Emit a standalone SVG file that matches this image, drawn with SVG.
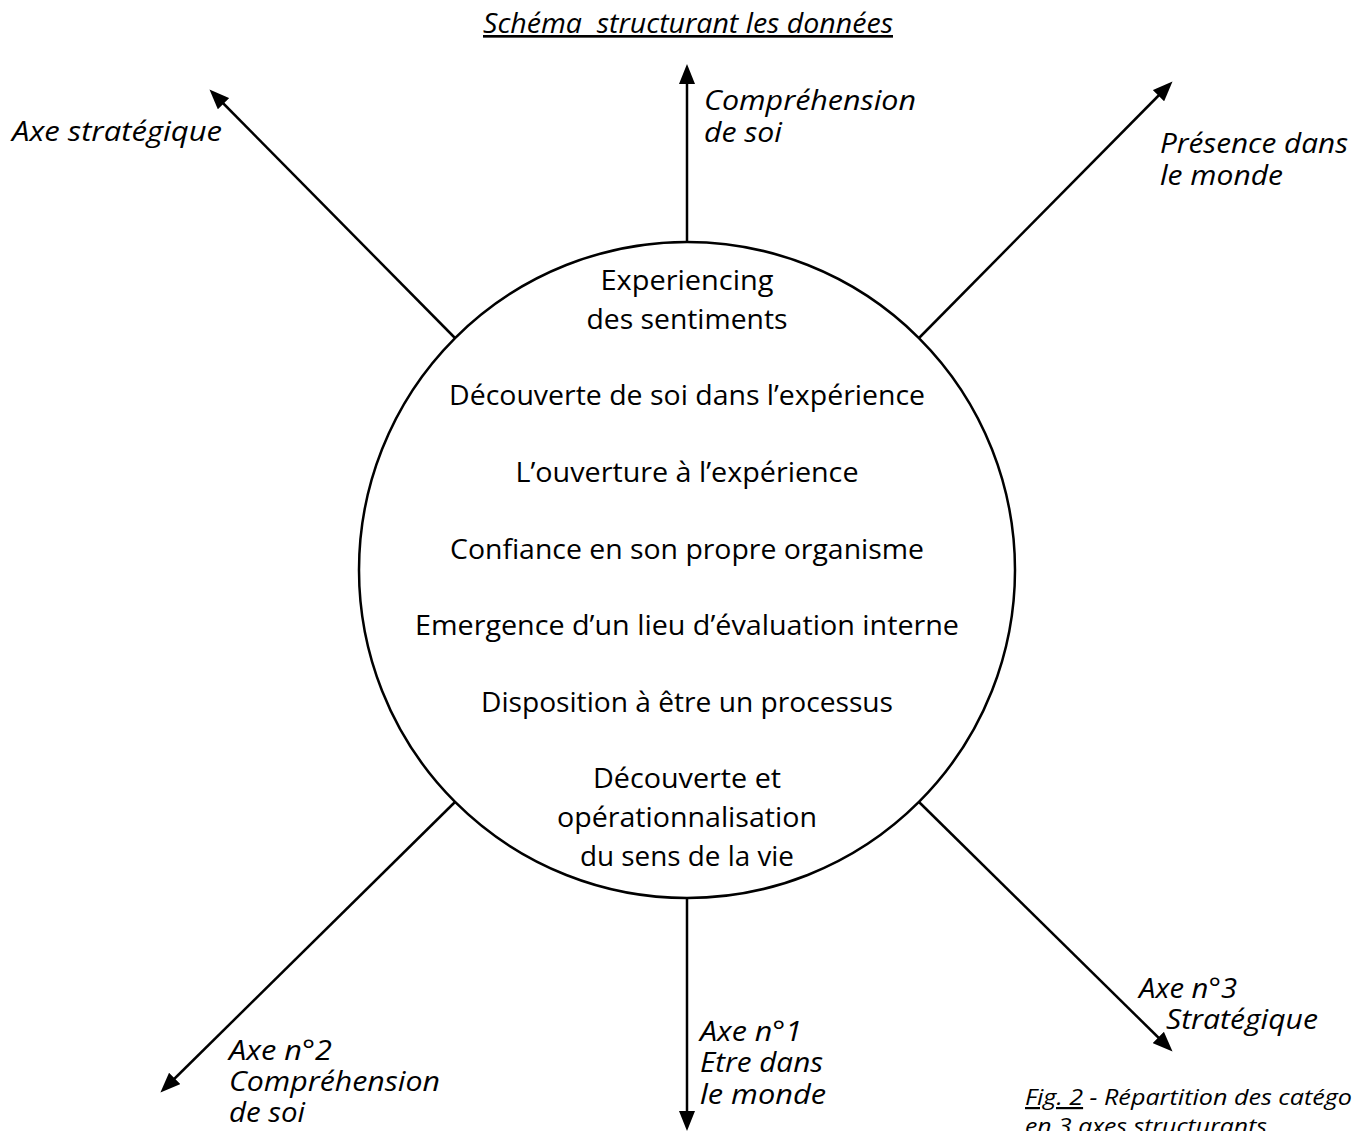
<svg xmlns="http://www.w3.org/2000/svg" width="1354" height="1131" viewBox="0 0 1354 1131">
<defs>
<style>
.c{font-family:"Open Sans","Liberation Sans",sans-serif;font-size:27px;fill:#000;text-anchor:middle}
.i{font-family:"Open Sans","Liberation Sans",sans-serif;font-size:26.5px;font-style:italic;fill:#000}
.cap{font-family:"Open Sans","Liberation Sans",sans-serif;font-size:22px;font-style:italic;fill:#000}
.u{text-decoration:underline}
.ax{stroke:#000;stroke-width:2.5;fill:none;marker-end:url(#ah)}
</style>
<marker id="ah" viewBox="0 0 20 16" refX="15" refY="8" markerWidth="20" markerHeight="16" markerUnits="userSpaceOnUse" orient="auto">
<path d="M0,0 L20,8 L0,16 z" fill="#000"/>
</marker>
</defs>
<rect width="1354" height="1131" fill="#fff"/>
<text id="title" class="i u" x="483" y="33" textLength="410" lengthAdjust="spacingAndGlyphs" style="white-space:pre">Schéma  structurant les données</text>
<g id="connectors">
<line class="ax" x1="687" y1="242" x2="687" y2="69"/>
<line class="ax" x1="455" y1="338" x2="213" y2="93"/>
<line class="ax" x1="919" y1="338" x2="1169" y2="85"/>
<line class="ax" x1="455" y1="802" x2="164" y2="1089"/>
<line class="ax" x1="687" y1="898" x2="687" y2="1126"/>
<line class="ax" x1="919" y1="802" x2="1169" y2="1048"/>
</g>
<g id="center">
<circle cx="687" cy="570" r="328" fill="none" stroke="#000" stroke-width="2.5"/>
<text class="c" x="687" y="290" textLength="173" lengthAdjust="spacingAndGlyphs">Experiencing</text>
<text class="c" x="687" y="329" textLength="201" lengthAdjust="spacingAndGlyphs">des sentiments</text>
<text class="c" x="687" y="405" textLength="476" lengthAdjust="spacingAndGlyphs">Découverte de soi dans l’expérience</text>
<text class="c" x="687" y="482" textLength="343" lengthAdjust="spacingAndGlyphs">L’ouverture à l’expérience</text>
<text class="c" x="687" y="559" textLength="474" lengthAdjust="spacingAndGlyphs">Confiance en son propre organisme</text>
<text class="c" x="687" y="635" textLength="544" lengthAdjust="spacingAndGlyphs">Emergence d’un lieu d’évaluation interne</text>
<text class="c" x="687" y="712" textLength="412" lengthAdjust="spacingAndGlyphs">Disposition à être un processus</text>
<text class="c" x="687" y="788" textLength="188" lengthAdjust="spacingAndGlyphs">Découverte et</text>
<text class="c" x="687" y="827" textLength="260" lengthAdjust="spacingAndGlyphs">opérationnalisation</text>
<text class="c" x="687" y="866" textLength="214" lengthAdjust="spacingAndGlyphs">du sens de la vie</text>
</g>
<g id="label-top">
<text class="i" x="704" y="110" textLength="212" lengthAdjust="spacingAndGlyphs">Compréhension</text>
<text class="i" x="704" y="142" textLength="78" lengthAdjust="spacingAndGlyphs">de soi</text>
</g>
<g id="label-topleft">
<text class="i" x="12" y="141" textLength="210" lengthAdjust="spacingAndGlyphs">Axe stratégique</text>
</g>
<g id="label-topright">
<text class="i" x="1160" y="153" textLength="188" lengthAdjust="spacingAndGlyphs">Présence dans</text>
<text class="i" x="1160" y="185" textLength="123" lengthAdjust="spacingAndGlyphs">le monde</text>
</g>
<g id="label-bottomright">
<text class="i" x="1139" y="998" textLength="98" lengthAdjust="spacingAndGlyphs">Axe n°3</text>
<text class="i" x="1166" y="1029" textLength="152" lengthAdjust="spacingAndGlyphs">Stratégique</text>
</g>
<g id="label-bottom">
<text class="i" x="700" y="1041" textLength="102" lengthAdjust="spacingAndGlyphs">Axe n°1</text>
<text class="i" x="700" y="1072" textLength="123" lengthAdjust="spacingAndGlyphs">Etre dans</text>
<text class="i" x="700" y="1104" textLength="126" lengthAdjust="spacingAndGlyphs">le monde</text>
</g>
<g id="label-bottomleft">
<text class="i" x="229" y="1060" textLength="103" lengthAdjust="spacingAndGlyphs">Axe n°2</text>
<text class="i" x="229" y="1091" textLength="211" lengthAdjust="spacingAndGlyphs">Compréhension</text>
<text class="i" x="229" y="1122" textLength="76" lengthAdjust="spacingAndGlyphs">de soi</text>
</g>
<g id="caption">
<text class="cap" x="1025" y="1105" textLength="327" lengthAdjust="spacingAndGlyphs"><tspan class="u">Fig. 2</tspan> - Répartition des catégo</text>
<text class="cap" x="1025" y="1134" textLength="242" lengthAdjust="spacingAndGlyphs">en 3 axes structurants</text>
</g>
</svg>
